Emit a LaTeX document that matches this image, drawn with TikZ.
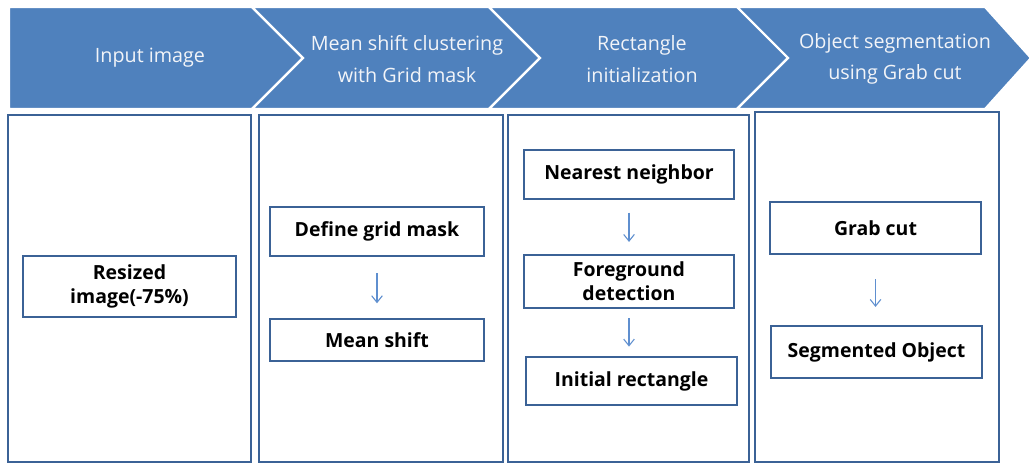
\documentclass[tikz,border=0pt]{standalone}
\usepackage{fontspec}
\setmainfont{Open Sans}
\usetikzlibrary{arrows.meta}
\definecolor{bandblue}{HTML}{4F81BD}
\definecolor{boxblue}{HTML}{3B6296}
\definecolor{arrowblue}{HTML}{5F8FCF}
\definecolor{bandtext}{HTML}{F2F4F8}
\tikzset{
  band/.style={fill=bandblue, draw=white, line width=1.6pt, line join=miter},
  bandlabel/.style={text=bandtext, font=\fontsize{14.8}{23.5}\selectfont, align=center, inner sep=0pt},
  panel/.style={draw=boxblue, line width=1.6pt},
  stepbox/.style={draw=boxblue, line width=1.6pt, font=\bfseries\fontsize{14.6}{18}\selectfont,
    align=center, inner sep=0pt, text=black},
  flow/.style={draw=arrowblue, line width=0.8pt, -{Straight Barb[length=5pt,width=8pt]}}
}
\begin{document}
\begin{tikzpicture}[x=0.75pt,y=-0.75pt]
\useasboundingbox (0,0) rectangle (1029,463);
\fill[white] (0,0) rectangle (1029,463);

% process band
\draw[band] (9,7) -- (252,7) -- (303,58) -- (252,109) -- (9,109) -- cycle;
\draw[band] (252,7) -- (489,7) -- (540,58) -- (489,109) -- (252,109) -- (303,58) -- cycle;
\draw[band] (489,7) -- (737,7) -- (788,58) -- (737,109) -- (489,109) -- (540,58) -- cycle;
\draw[band] (737,7) -- (985,7) -- (1031,58) -- (985,109) -- (737,109) -- (788,58) -- cycle;

\node[bandlabel] (h1) at (150,58) {Input image};
\node[bandlabel] (h2) at (407,59) {Mean shift clustering\\with Grid mask};
\node[bandlabel] (h3) at (642,59) {Rectangle\\initialization};
\node[bandlabel] (h4) at (895,59) {Object segmentation\\using Grab cut};

% stage panels
\draw[panel] (8,115) rectangle (251,462);
\draw[panel] (259,115) rectangle (503,462);
\draw[panel] (508,115) rectangle (749,462);
\draw[panel] (755,112) rectangle (999,462);

% stage 1
\node[stepbox, minimum width=159.75pt, minimum height=45.75pt] (resized) at (129.5,286.5)
  {Resized\\image(-75\%)};

% stage 2
\node[stepbox, minimum width=160.5pt, minimum height=36.75pt] (grid) at (377,231.5) {Define grid mask};
\node[stepbox, minimum width=160.5pt, minimum height=31.5pt] (mshift) at (377,340) {Mean shift};
\draw[flow, shorten <=12pt, shorten >=11pt] (grid) -- (mshift);

% stage 3
\node[stepbox, minimum width=157.5pt, minimum height=36.75pt] (nn) at (629,174.5) {Nearest neighbor};
\node[stepbox, minimum width=157.5pt, minimum height=39.75pt] (fg) at (629,281.5)
  {Foreground\\detection};
\node[stepbox, minimum width=158.25pt, minimum height=36pt] (rect) at (631.5,381) {Initial rectangle};
\draw[flow, shorten <=9.5pt, shorten >=9pt] (nn) -- (nn |- fg.north);
\draw[flow, shorten <=7pt, shorten >=7pt] (fg) -- (fg |- rect.north);

% stage 4
\node[stepbox, minimum width=158.25pt, minimum height=39pt] (grab) at (875.5,228) {Grab cut};
\node[stepbox, minimum width=158.25pt, minimum height=39pt] (seg) at (876.5,352) {Segmented Object};
\draw[flow, shorten <=18pt, shorten >=13.5pt] (grab) -- (grab |- seg.north);
\end{tikzpicture}
\end{document}
